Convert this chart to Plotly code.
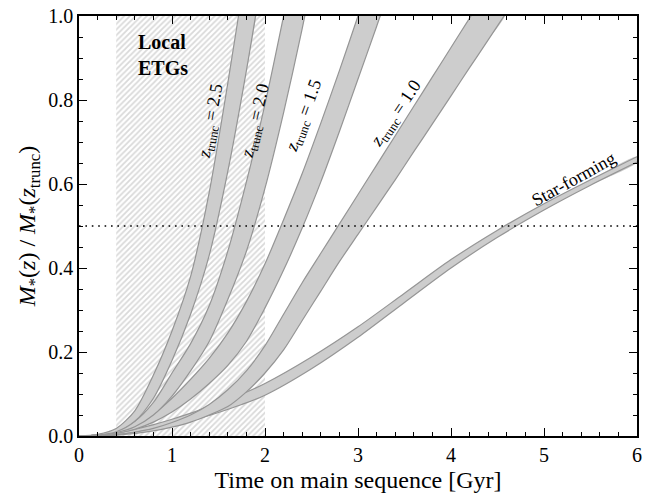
import plotly.graph_objects as go

# ---------------- data ----------------
# z_trunc = 2.5 band
T_25 = [0, 0.2, 0.4, 0.6, 0.8, 1.0, 1.2, 1.4, 1.6, 1.8, 1.95]
UP_25 = [0, 0.004, 0.018, 0.06, 0.145, 0.25, 0.38, 0.58, 0.84, 1.12, 1.33]
LO_25 = [0, 0.002, 0.01, 0.035, 0.09, 0.18, 0.29, 0.43, 0.63, 0.87, 1.07]

# z_trunc = 2.0 band
T_20 = [0, 0.2, 0.4, 0.6, 0.8, 1.0, 1.2, 1.4, 1.6, 1.8, 2.0, 2.2, 2.4, 2.5]
UP_20 = [0, 0.003, 0.013, 0.035, 0.08, 0.15, 0.22, 0.31, 0.44, 0.605, 0.79, 1.0, 1.22, 1.33]
LO_20 = [0, 0.002, 0.008, 0.022, 0.05, 0.095, 0.155, 0.225, 0.325, 0.44, 0.59, 0.77, 0.97, 1.08]

# z_trunc = 1.5 band
T_15 = [0, 0.2, 0.4, 0.6, 0.8, 1.0, 1.2, 1.4, 1.6, 1.8, 2.0, 2.2, 2.4, 2.6, 2.8, 3.0, 3.2, 3.3]
UP_15 = [0, 0.002, 0.01, 0.026, 0.052, 0.09, 0.135, 0.185, 0.245, 0.32, 0.41, 0.515, 0.625, 0.745, 0.87, 1.0, 1.13, 1.2]
LO_15 = [0, 0.001, 0.006, 0.016, 0.033, 0.057, 0.088, 0.125, 0.168, 0.225, 0.305, 0.395, 0.495, 0.605, 0.725, 0.85, 0.975, 1.04]

# z_trunc = 1.0 band
T_10 = [0, 0.2, 0.4, 0.6, 0.8, 1.0, 1.2, 1.4, 1.6, 1.8, 2.0, 2.2, 2.4, 2.6, 2.8, 3.0,
        3.2, 3.4, 3.6, 3.8, 4.0, 4.2, 4.4, 4.6]
UP_10 = [0, 0.001, 0.003, 0.009, 0.018, 0.032, 0.05, 0.075, 0.11, 0.155, 0.215, 0.29, 0.365,
         0.435, 0.505, 0.575, 0.645, 0.715, 0.785, 0.855, 0.925, 0.995, 1.065, 1.135]
LO_10 = [0, 0.001, 0.002, 0.006, 0.012, 0.021, 0.033, 0.05, 0.07, 0.105, 0.15, 0.205, 0.275,
         0.345, 0.415, 0.48, 0.545, 0.61, 0.677, 0.743, 0.81, 0.877, 0.943, 1.01]

# star-forming band
T_SF = [0, 0.25, 0.5, 0.75, 1.0, 1.25, 1.5, 1.75, 2.0, 2.5, 3.0, 3.5, 4.0, 4.5, 5.0, 5.5, 6.0]
UP_SF = [0, 0.003, 0.011, 0.024, 0.04, 0.058, 0.08, 0.1, 0.125, 0.188, 0.26, 0.34, 0.42, 0.49, 0.553, 0.61, 0.665]
LO_SF = [0, 0.001, 0.006, 0.014, 0.026, 0.039, 0.056, 0.075, 0.097, 0.16, 0.235, 0.318, 0.40, 0.473, 0.538, 0.597, 0.652]

# local ETG age range [Gyr]
ETG_T = [0.4, 2.0]
HALF_MASS = 0.5

X_RANGE = [0, 6]
Y_RANGE = [0, 1]

BANDS = [
    (T_SF, UP_SF, LO_SF),
    (T_10, UP_10, LO_10),
    (T_15, UP_15, LO_15),
    (T_20, UP_20, LO_20),
    (T_25, UP_25, LO_25),
]

LABELS = ["<i>z</i><sub>trunc</sub> = 2.5", "<i>z</i><sub>trunc</sub> = 2.0",
          "<i>z</i><sub>trunc</sub> = 1.5", "<i>z</i><sub>trunc</sub> = 1.0", "Star-forming"]
LABEL_T = [1.42, 1.90, 2.43, 3.42, 5.32]
LABEL_M = [0.75, 0.75, 0.762, 0.767, 0.613]
LABEL_ANGLE = [-80, -77, -70, -56, -29]

FONT = "'Liberation Serif', 'Times New Roman', Times, 'DejaVu Serif', serif"
FILL = "#cdcdcd"
EDGE = "#959595"

fig = go.Figure()

# hatched region of local ETGs
fig.add_trace(go.Scatter(
    x=[ETG_T[0], ETG_T[1], ETG_T[1], ETG_T[0], ETG_T[0]],
    y=[Y_RANGE[0], Y_RANGE[0], Y_RANGE[1], Y_RANGE[1], Y_RANGE[0]],
    mode="none", fill="toself", fillcolor="rgba(0,0,0,0)",
    fillpattern=dict(shape="/", fgcolor="#b3b3b3", bgcolor="white", size=4, solidity=0.45),
    hoverinfo="skip", showlegend=False))

# band fills
for t, up, lo in BANDS:
    fig.add_trace(go.Scatter(
        x=list(t) + list(t)[::-1], y=list(up) + list(lo)[::-1],
        mode="lines", line=dict(width=0, shape="spline", smoothing=0.8),
        fill="toself", fillcolor=FILL, hoverinfo="skip", showlegend=False))
    for edge in (up, lo):
        fig.add_trace(go.Scatter(
            x=t, y=edge, mode="lines",
            line=dict(color=EDGE, width=1.2, shape="spline", smoothing=0.8),
            hoverinfo="skip", showlegend=False))

# half-mass dotted line
fig.add_trace(go.Scatter(
    x=X_RANGE, y=[HALF_MASS, HALF_MASS], mode="lines",
    line=dict(color="black", width=1.6, dash="1.6px,4.8px"),
    hoverinfo="skip", showlegend=False))

for txt, xt, ym, ang in zip(LABELS, LABEL_T, LABEL_M, LABEL_ANGLE):
    fig.add_annotation(x=xt, y=ym, text=txt, textangle=ang, showarrow=False,
                       xanchor="center", yanchor="middle",
                       font=dict(family=FONT, size=18, color="black"))

fig.add_annotation(x=0.615, y=0.907, text="<b>Local<br>ETGs</b>", showarrow=False,
                   xanchor="left", yanchor="middle", align="left",
                   font=dict(family=FONT, size=20, color="black"))

axis_common = dict(
    showline=True, linecolor="black", linewidth=1.6, mirror="allticks",
    ticks="inside", ticklen=8, tickwidth=1.1, tickcolor="black",
    showgrid=False, zeroline=False,
    tickfont=dict(family=FONT, size=20, color="black"),
)

fig.update_xaxes(range=X_RANGE, dtick=1, tick0=0,
                 minor=dict(dtick=0.2, ticks="inside", ticklen=4, tickwidth=1, tickcolor="black"),
                 title=dict(text="Time on main sequence [Gyr]", standoff=6,
                            font=dict(family=FONT, size=24, color="black")),
                 **axis_common)
fig.update_yaxes(range=Y_RANGE, dtick=0.2, tick0=0, tickformat=".1f",
                 minor=dict(dtick=0.05, ticks="inside", ticklen=4, tickwidth=1, tickcolor="black"),
                 title=dict(text="<i>M</i><sub>*</sub>(<i>z</i>) / <i>M</i><sub>*</sub>(<i>z</i><sub>trunc</sub>)",
                            standoff=6, font=dict(family=FONT, size=24, color="black")),
                 **axis_common)

fig.update_layout(
    width=647, height=495,
    margin=dict(l=79, r=5, t=15, b=59),
    paper_bgcolor="white", plot_bgcolor="white",
    font=dict(family=FONT, color="black"),
    showlegend=False,
)

fig.write_html("out.html", config={"displayModeBar": False},
               post_script="document.body.style.margin='0';document.body.style.padding='0';")
